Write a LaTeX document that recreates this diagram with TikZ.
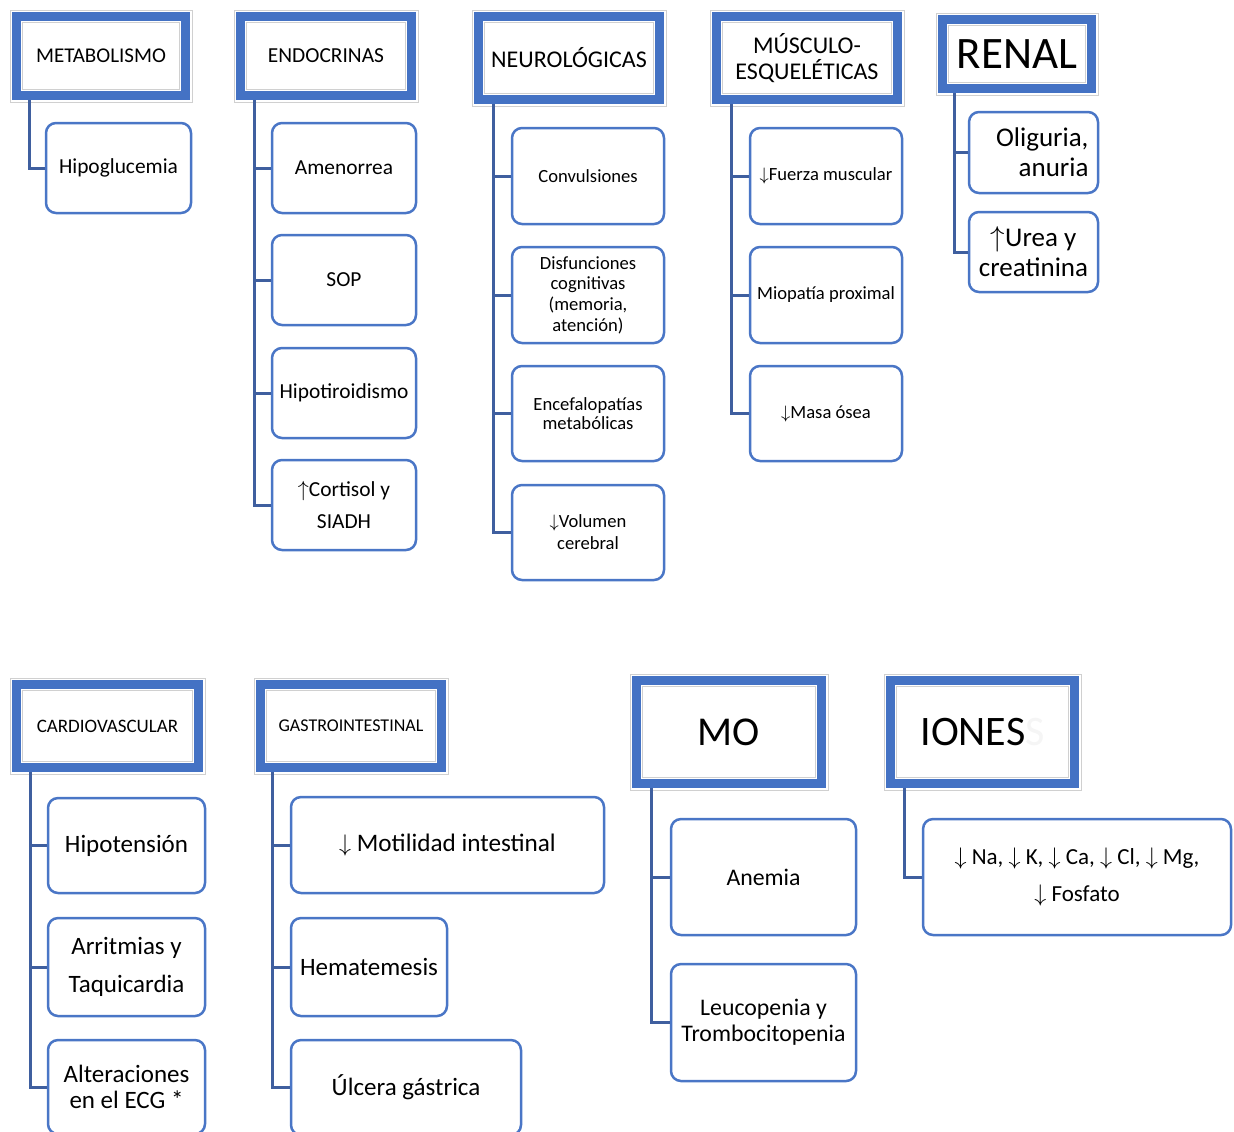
\documentclass[tikz,border=0pt]{standalone}
\usepackage{fontspec}
\setmainfont{Carlito}

\definecolor{azulcab}{HTML}{4472C4}
\definecolor{azulhijo}{HTML}{4A76C6}
\definecolor{azulrama}{HTML}{3F5F9F}
\definecolor{grismarco}{HTML}{D0D0D0}

\newcommand{\tamano}[2]{\fontsize{#1}{#2}\selectfont}

\begin{document}
\begin{tikzpicture}[x=0.5pt, y=-0.5pt,
    zona/.style args={#1,#2,#3,#4}{at={({(#1+#3)/2},{(#2+#4)/2})},
        minimum width={(#3-#1)*0.5pt}, minimum height={(#4-#2)*0.5pt}},
    cab/.style={draw=azulcab, line width=4.5pt, fill=white, inner sep=0pt, outer sep=0pt, align=center},
    hijo/.style={draw=azulhijo, line width=1.25pt, rounded corners=5pt, fill=white, inner sep=0pt, align=center},
    rama/.style={draw=azulrama, line width=1.5pt},
    marco/.style={draw=grismarco, line width=0.5pt}]
\clip (0,0) rectangle (1234,1131);

% cabeceras
\node[cab, zona={16.5,16.5,185.5,95.5}, font=\tamano{10.5}{13}] (met) {METABOLISMO};
\node[cab, zona={240.5,16.5,411.5,95.5}, font=\tamano{10.7}{13}] (endo) {ENDOCRINAS};
\node[cab, zona={478.5,16.5,659.5,99.5}, font=\tamano{12}{13}] (neuro) {NEUROLÓGICAS};
\node[cab, zona={716.5,16.5,897.5,99.5}, font=\tamano{12}{13}] (musc) {MÚSCULO-\\ESQUELÉTICAS};
\node[cab, zona={942.5,19.5,1091.5,88.5}, font=\tamano{22.5}{26}] (renal) {RENAL};
\node[cab, zona={16.5,684.5,198.5,767.5}, font=\tamano{9.5}{12}] (cardio) {CARDIOVASCULAR};
\node[cab, zona={260.5,684.5,441.5,767.5}, font=\tamano{9}{12}] (gastro) {GASTROINTESTINAL};
\node[cab, zona={636.5,680.5,821.5,783.5}, font=\tamano{20.5}{24}] (mo) {MO};
\node[cab, zona={890.5,680.5,1074.5,783.5}, font=\tamano{21}{24}] (iones) {IONES\textcolor{gray!8}{S}};

\foreach \c in {met,endo,neuro,musc,renal,cardio,gastro,mo,iones} {
    \draw[marco] ([shift={(-3.25pt,3.25pt)}]\c.north west) rectangle ([shift={(3.25pt,-3.25pt)}]\c.south east);
    \draw[marco] ([shift={(2.95pt,-2.95pt)}]\c.north west) rectangle ([shift={(-2.95pt,2.95pt)}]\c.south east);
}

% fila superior
\node[hijo, zona={46,123,191,213}, font=\tamano{10.7}{13}] (hipo) {Hipoglucemia};

\node[hijo, zona={272,123,416,213}, font=\tamano{10.7}{13}] (amen) {Amenorrea};
\node[hijo, zona={272,235,416,325}, font=\tamano{10.7}{13}] (sop) {SOP};
\node[hijo, zona={272,348,416,438}, font=\tamano{10.7}{13}] (hipot) {Hipotiroidismo};
\node[hijo, zona={272,460,416,550}, font=\tamano{10.7}{16}] (cort) {$\uparrow$Cortisol y\\SIADH};

\node[hijo, zona={512,128,664,224}, font=\tamano{9.3}{10.5}] (conv) {Convulsiones};
\node[hijo, zona={512,247,664,343}, font=\tamano{9.3}{10.3}] (disf) {Disfunciones\\cognitivas\\(memoria,\\atención)};
\node[hijo, zona={512,366,664,461}, font=\tamano{9.3}{9.8}] (ence) {Encefalopatías\\metabólicas};
\node[hijo, zona={512,485,664,580}, font=\tamano{9.3}{11}] (volu) {$\downarrow$Volumen\\cerebral};

\node[hijo, zona={750,128,902,224}, font=\tamano{9.3}{11}] (fuer) {$\downarrow$Fuerza muscular};
\node[hijo, zona={750,247,902,343}, font=\tamano{9.3}{11}] (miop) {Miopatía proximal};
\node[hijo, zona={750,366,902,461}, font=\tamano{9.3}{11}] (masa) {$\downarrow$Masa ósea};

\node[hijo, zona={969,112,1098,193}, font=\tamano{13.5}{15}, align=right, text width=55pt] (olig) {Oliguria,\\anuria};
\node[hijo, zona={969,212,1098,292}, font=\tamano{13.5}{15}] (urea) {$\uparrow$Urea y\\creatinina};

% fila inferior
\node[hijo, zona={48,798,205,893}, font=\tamano{12.5}{15}] (hipote) {Hipotensión};
\node[hijo, zona={48,918,205,1016}, font=\tamano{12.5}{19}] (arri) {Arritmias y\\Taquicardia};
\node[hijo, zona={48,1040,205,1134}, font=\tamano{12.5}{13}] (alte) {Alteraciones\\en el ECG *};

\node[hijo, zona={291,797,604,893}, font=\tamano{12.6}{15}] (moti) {$\downarrow$ Motilidad intestinal};
\node[hijo, zona={291,918,447,1016}, font=\tamano{12.5}{15}] (hema) {Hematemesis};
\node[hijo, zona={291,1040,521,1135}, font=\tamano{12.5}{15}] (ulce) {Úlcera gástrica};

\node[hijo, zona={671,819,856,935}, font=\tamano{11.9}{13}] (anem) {Anemia};
\node[hijo, zona={671,964,856,1081}, font=\tamano{11.9}{13}] (leuc) {Leucopenia y\\Trombocitopenia};

\node[hijo, zona={923,819,1231,935}, font=\tamano{11.5}{18.5}] (ione) {$\downarrow$ Na, $\downarrow$ K, $\downarrow$ Ca, $\downarrow$ Cl, $\downarrow$ Mg,\\$\downarrow$ Fosfato};

% ramas
\draw[rama] ([yshift=-2.25pt]met.south west) ++(13,0) |- (hipo.west);
\foreach \h in {amen,sop,hipot,cort}
    \draw[rama] ([yshift=-2.25pt]endo.south west) ++(13.5,0) |- (\h.west);
\foreach \h in {conv,disf,ence,volu}
    \draw[rama] ([yshift=-2.25pt]neuro.south west) ++(14.5,0) |- (\h.west);
\foreach \h in {fuer,miop,masa}
    \draw[rama] ([yshift=-2.25pt]musc.south west) ++(14.5,0) |- (\h.west);
\foreach \h in {olig,urea}
    \draw[rama] ([yshift=-2.25pt]renal.south west) ++(11.5,0) |- (\h.west);
\foreach \h in {hipote,arri,alte}
    \draw[rama] ([yshift=-2.25pt]cardio.south west) ++(13.5,0) |- (\h.west);
\foreach \h in {moti,hema,ulce}
    \draw[rama] ([yshift=-2.25pt]gastro.south west) ++(11.5,0) |- (\h.west);
\foreach \h in {anem,leuc}
    \draw[rama] ([yshift=-2.25pt]mo.south west) ++(14.5,0) |- (\h.west);
\draw[rama] ([yshift=-2.25pt]iones.south west) ++(13.5,0) |- (ione.west);
\end{tikzpicture}
\end{document}
